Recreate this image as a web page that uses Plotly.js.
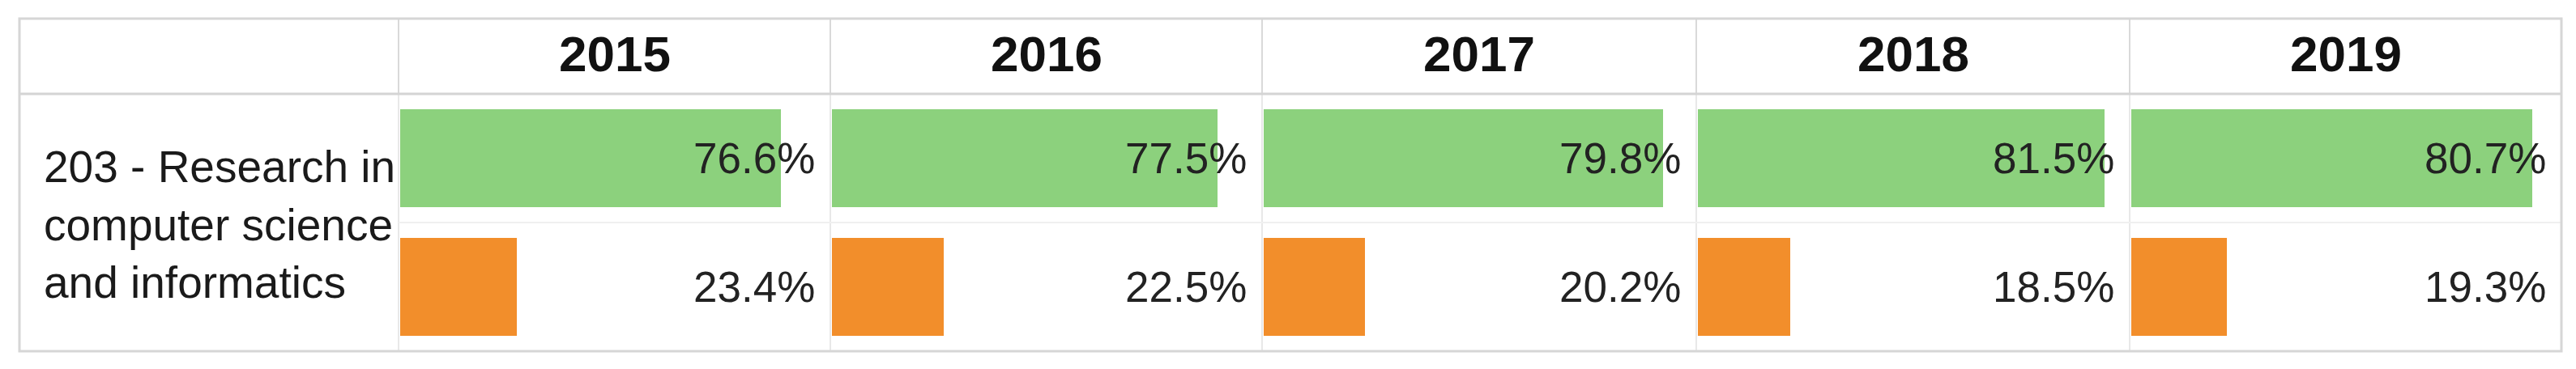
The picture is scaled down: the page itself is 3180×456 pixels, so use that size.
<!DOCTYPE html>
<html>
<head>
<meta charset="utf-8">
<script src="https://cdn.plot.ly/plotly-3.0.1.min.js"></script>
<style>
  html, body { margin: 0; padding: 0; background: #fff; }
</style>
</head>
<body>
<div id="chart"></div>
<script>
// Matrix values, one column per year
const years = ['2015', '2016', '2017', '2018', '2019'];
const greenShare = [76.6, 77.5, 79.8, 81.5, 80.7];
const orangeShare = [23.4, 22.5, 20.2, 18.5, 19.3];
const rowLabel = '203 - Research in<br>computer science<br>and informatics';

const W = 3180, H = 456;
// table geometry in pixels
const tableLeft = 24, tableTop = 23, headerBottom = 116, tableBottom = 434;
const colEdges = [492, 1025, 1558, 2094, 2629, 3162];
const fontFamily = 'Liberation Sans, Arial, sans-serif';

const px = v => v / W;
const py = v => 1 - v / H;

let data = [];
let layout = {
    width: W,
    height: H,
    margin: { l: 0, r: 0, t: 0, b: 0 },
    paper_bgcolor: '#ffffff',
    plot_bgcolor: 'rgba(0,0,0,0)',
    showlegend: false,
    bargap: 0,
    yaxis: {
        domain: [py(tableBottom), py(headerBottom)],
        range: [1.5, -0.5],
        showgrid: false, zeroline: false, showticklabels: false, fixedrange: true
    },
    annotations: [],
    shapes: []
};

years.forEach((year, i) => {
    const axName = i === 0 ? 'x' : 'x' + (i + 1);
    const layoutKey = i === 0 ? 'xaxis' : 'xaxis' + (i + 1);

    data.push({
        type: 'bar',
        orientation: 'h',
        x: [greenShare[i], orangeShare[i]],
        y: [0, 1],
        width: 0.76,
        marker: { color: ['#8CD17D', '#F28E2B'] },
        xaxis: axName,
        yaxis: 'y',
        hoverinfo: 'skip'
    });

    layout[layoutKey] = {
        domain: [px(colEdges[i] + 2), px(colEdges[i + 1])],
        range: [0, 86.5],
        anchor: 'y',
        showgrid: false, zeroline: false, showticklabels: false, fixedrange: true
    };

    // year header
    layout.annotations.push({
        xref: 'paper', yref: 'paper',
        x: px((colEdges[i] + colEdges[i + 1]) / 2), y: py(67),
        xanchor: 'center', yanchor: 'middle',
        text: year, showarrow: false,
        font: { family: fontFamily, size: 62, color: '#111111', weight: 700 }
    });

    // value labels, right aligned in the cell
    [greenShare[i], orangeShare[i]].forEach((v, row) => {
        layout.annotations.push({
            xref: 'paper', yref: 'y',
            x: px(colEdges[i + 1] - 17), y: row,
            xanchor: 'right', yanchor: 'middle',
            text: v.toFixed(1) + '%', showarrow: false,
            font: { family: fontFamily, size: 53, color: '#222222' }
        });
    });
});

// row header
layout.annotations.push({
    xref: 'paper', yref: 'paper',
    x: px(52), y: py(277),
    xanchor: 'left', yanchor: 'middle', align: 'left',
    text: rowLabel, showarrow: false,
    font: { family: fontFamily, size: 55, color: '#1a1a1a' }
});

// table borders
function line(x0, y0, x1, y1, color, width) {
    layout.shapes.push({
        type: 'line', xref: 'paper', yref: 'paper',
        x0: px(x0), y0: py(y0), x1: px(x1), y1: py(y1),
        line: { color: color, width: width }
    });
}
colEdges.slice(0, 5).forEach(x => {
    line(x, tableTop, x, headerBottom, '#d9d9d9', 2);
    line(x, headerBottom, x, tableBottom, '#e8e8e8', 2);
});
line(colEdges[0], 275, colEdges[5], 275, '#f0f0f0', 2);
line(tableLeft, headerBottom, colEdges[5], headerBottom, '#d4d4d4', 3);
layout.shapes.push({
    type: 'rect', xref: 'paper', yref: 'paper',
    x0: px(tableLeft), y0: py(tableBottom), x1: px(colEdges[5]), y1: py(tableTop),
    line: { color: '#d6d6d6', width: 3 }
});

Plotly.newPlot('chart', data, layout, { staticPlot: true });
</script>
</body>
</html>
